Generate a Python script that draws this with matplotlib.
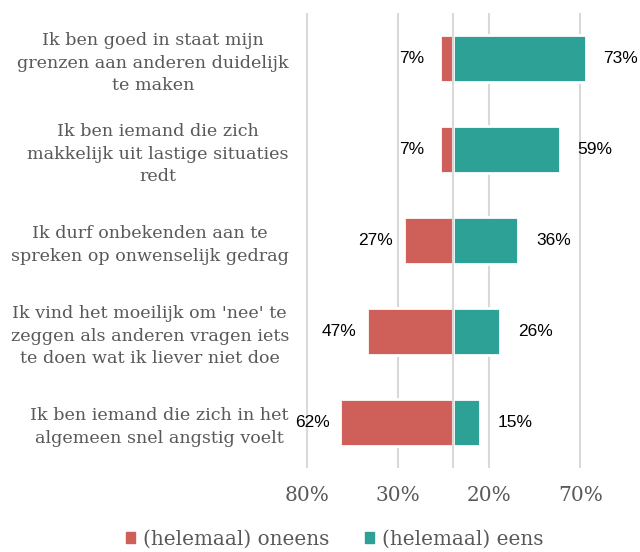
import matplotlib
matplotlib.use('Agg')
import matplotlib.pyplot as plt
from matplotlib.patches import Patch

categories = [
    'Ik ben goed in staat mijn\ngrenzen aan anderen duidelijk\nte maken',
    'Ik ben iemand die zich\nmakkelijk uit lastige situaties\nredt',
    'Ik durf onbekenden aan te\nspreken op onwenselijk gedrag',
    "Ik vind het moeilijk om 'nee' te\nzeggen als anderen vragen iets\nte doen wat ik liever niet doe",
    'Ik ben iemand die zich in het\nalgemeen snel angstig voelt',
]
oneens = [7, 7, 27, 47, 62]
eens = [73, 59, 36, 26, 15]
tick_vals = [-80, -30, 20, 70]
tick_labels = ['80%', '30%', '20%', '70%']

red = '#CF6059'
teal = '#2DA195'
grid_col = '#D9D9D9'
text_col = '#595959'
serif = 'DejaVu Serif'

fig = plt.figure(figsize=(6.4, 5.52), dpi=100)
ax = fig.add_axes([300/640, 84/552, 293/640, 455/552])

y = list(range(len(categories)))
ax.barh(y, [-v for v in oneens], height=0.52, color=red, edgecolor='white', linewidth=2, zorder=2)
ax.barh(y, eens, height=0.52, color=teal, edgecolor='white', linewidth=2, zorder=2)
ax.axvline(0, color=grid_col, lw=1.5, zorder=3)

# value labels
for yi, v in zip(y, oneens):
    ax.annotate(f'{v}%', (-v, yi), xytext=(-28, 0), textcoords='offset pixels',
                ha='center', va='center', fontsize=12.5, family='Liberation Sans', color='black')
for yi, v in zip(y, eens):
    ax.annotate(f'{v}%', (v, yi), xytext=(35, 0), textcoords='offset pixels',
                ha='center', va='center', fontsize=12.5, family='Liberation Sans', color='black')

ax.set_xlim(-84, 77)
ax.set_ylim(4.5, -0.5)
ax.set_xticks(tick_vals)
ax.set_xticklabels(tick_labels, fontsize=14.5, family=serif, color=text_col)
ax.set_yticks(y)
ax.set_yticklabels(categories, fontsize=12.6, family=serif, color=text_col,
                   multialignment='center', linespacing=1.42)
ax.tick_params(axis='both', length=0)
ax.tick_params(axis='y', pad=8)
ax.tick_params(axis='x', pad=13)
ax.grid(axis='x', color=grid_col, lw=1.5, zorder=0)
ax.set_axisbelow(True)
for s in ax.spines.values():
    s.set_visible(False)

handles = [Patch(color=red, label='(helemaal) oneens'), Patch(color=teal, label='(helemaal) eens')]
fig.legend(handles=handles, loc='center', bbox_to_anchor=(335/640, 13/552), ncol=2, frameon=False,
           prop={'family': serif, 'size': 14.4}, labelcolor=text_col,
           handlelength=0.45, handleheight=0.45, handletextpad=0.4, columnspacing=1.8)

fig.savefig('out.png', dpi=100)
